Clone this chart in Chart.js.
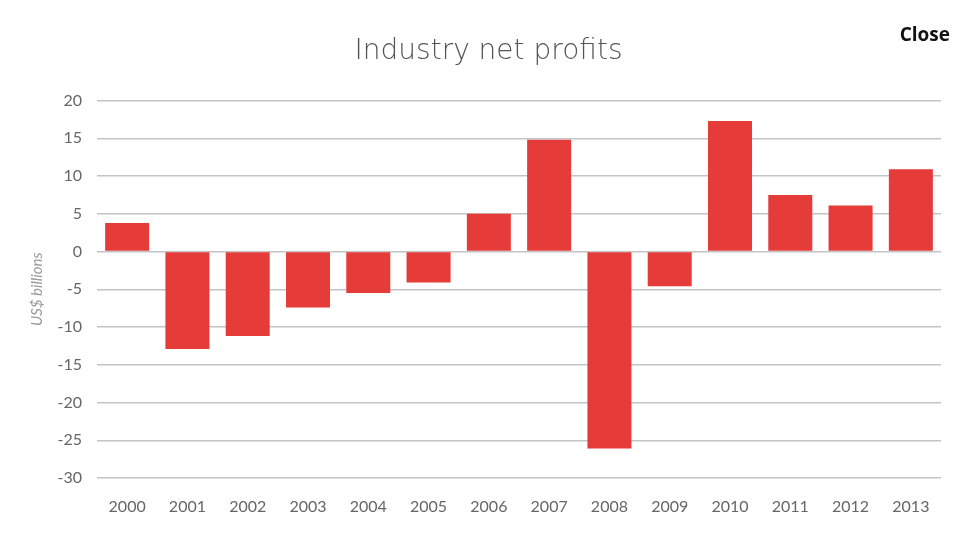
<!DOCTYPE html>
<html>
<head>
<meta charset="utf-8">
<title>Industry net profits</title>
<script src="https://cdn.jsdelivr.net/npm/chart.js@4/dist/chart.umd.min.js"></script>
<style>
  html, body { margin: 0; padding: 0; background: #fff; }
  #wrap { position: relative; width: 953px; height: 536px; }
  #close {
    position: absolute; right: 3px; top: 21px;
    font: bold 19px "Open Sans", sans-serif; color: #111;
    cursor: pointer;
  }
</style>
</head>
<body>
<div id="wrap">
  <canvas id="bar-chart" width="953" height="536"></canvas>
  <div id="close">Close</div>
</div>
<script>
// yearly net profit, US$ billions
var years = ['2000', '2001', '2002', '2003', '2004', '2005', '2006',
             '2007', '2008', '2009', '2010', '2011', '2012', '2013'];
var profits = [3.8, -12.9, -11.2, -7.4, -5.5, -4.1, 5.0,
               14.8, -26.1, -4.6, 17.3, 7.5, 6.1, 10.9];
var yTicks = [20, 15, 10, 5, 0, -5, -10, -15, -20, -25, -30];

new Chart(document.getElementById('bar-chart'), {
    type: 'bar',
    data: {
        labels: years,
        datasets: [
            {
                label: 'Net profit',
                data: profits,
                backgroundColor: '#e53b39',
                categoryPercentage: 1,
                barPercentage: 0.73
            }
        ]
    },
    options: {
        responsive: false,
        animation: false,
        layout: { padding: { left: 36, right: 12, top: 0, bottom: 0 } },
        plugins: {
            legend: { display: false },
            tooltip: { enabled: false },
            title: {
                display: true,
                text: 'Industry net profits',
                color: '#555',
                font: { family: 'DejaVu Sans', size: 28, weight: '200', lineHeight: 1.2 },
                padding: { top: 35, bottom: 32 }
            }
        },
        scales: {
            x: {
                grid: { display: false, drawTicks: false },
                border: { display: false },
                ticks: {
                    color: '#666',
                    font: { family: 'Lato', size: 16 },
                    padding: 19,
                    maxRotation: 0
                },
                afterFit: function(scale) { scale.height = 58; }
            },
            y: {
                min: -30,
                max: 20,
                afterBuildTicks: function(scale) {
                    scale.ticks = yTicks.map(function(v) { return { value: v }; });
                },
                grid: { color: '#c4c4c4', lineWidth: 1.5, drawTicks: false },
                border: { display: false },
                ticks: {
                    color: '#666',
                    font: { family: 'Lato', size: 16 },
                    padding: 15
                },
                title: {
                    display: true,
                    text: 'US$ billions',
                    color: '#999',
                    font: { family: 'Lato', size: 15, style: 'italic' },
                    padding: { top: -8, bottom: 0 }
                },
                afterFit: function(scale) { scale.width = 61; }
            }
        }
    }
});
</script>
</body>
</html>
